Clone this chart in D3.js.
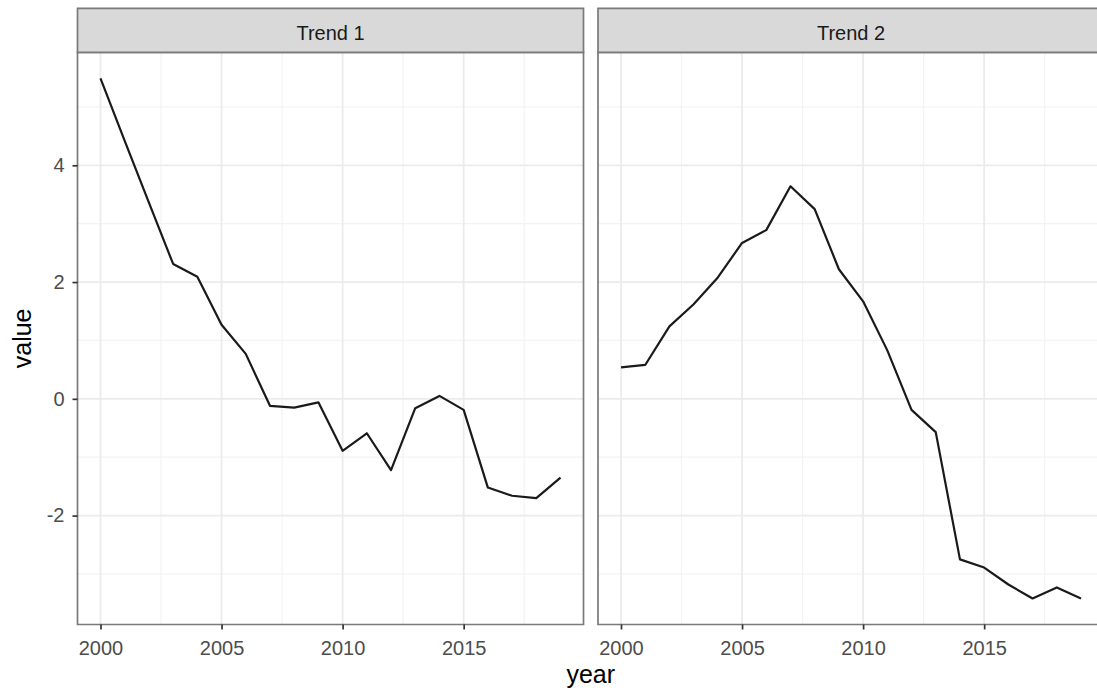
<!DOCTYPE html>
<html>
<head>
<meta charset="utf-8">
<script src="https://cdn.jsdelivr.net/npm/d3@7"></script>
<style>
  html, body { margin: 0; padding: 0; background: #fff; overflow: hidden; }
  svg { display: block; font-family: "Liberation Sans", Arial, sans-serif; }
</style>
</head>
<body>
<svg id="chart" width="1097" height="697"></svg>
<script>
// ---- data ----
const years = [2000,2001,2002,2003,2004,2005,2006,2007,2008,2009,2010,2011,2012,2013,2014,2015,2016,2017,2018,2019];
const panels = ["Trend 1", "Trend 2"];
const trend1 = [5.49,4.42,3.36,2.31,2.09,1.27,0.77,-0.12,-0.15,-0.06,-0.89,-0.59,-1.22,-0.16,0.05,-0.19,-1.52,-1.66,-1.70,-1.35];
const trend2 = [0.54,0.58,1.24,1.62,2.08,2.67,2.89,3.64,3.25,2.22,1.67,0.83,-0.19,-0.57,-2.75,-2.89,-3.18,-3.42,-3.23,-3.42];
const xTicks = [2000, 2005, 2010, 2015];
const xMinor = [2002.5, 2007.5, 2012.5, 2017.5];
const yTicks = [-2, 0, 2, 4];
const yMinor = [-3, -1, 1, 3, 5];
const xTitle = "year";
const yTitle = "value";

const series = [trend1, trend2];

// ---- layout ----
const W = 1097, H = 697;
const svg = d3.select("#chart");
const panelW = 506;
const panelLefts = [77.5, 598];
const stripTop = 8.3, panelTop = 52.3, panelBottom = 624.5;

function expand(ext, f) { const r = ext[1] - ext[0]; return [ext[0] - f * r, ext[1] + f * r]; }

const allVals = trend1.concat(trend2);
const y = d3.scaleLinear().domain(expand(d3.extent(allVals), 0.05)).range([panelBottom, panelTop]);

const borderCol = "#7a7a7a";
const fmt = d => String(d);

function boxPath(x0, y0, x1, y1) {
  // open on the right when the box runs past the picture edge
  if (x1 > W) return `M${x1},${y0}H${x0}V${y1}H${x1}`;
  return `M${x0},${y0}H${x1}V${y1}H${x0}Z`;
}

panels.forEach((name, i) => {
  const left = panelLefts[i];
  const right = left + panelW;
  const x = d3.scaleLinear().domain(expand(d3.extent(years), 0.05)).range([left, right]);
  const g = svg.append("g");

  // minor grid
  g.selectAll(".ymin").data(yMinor).enter().append("line")
    .attr("x1", left).attr("x2", right)
    .attr("y1", d => y(d)).attr("y2", d => y(d))
    .attr("stroke", "#f3f3f3").attr("stroke-width", 1.2);
  g.selectAll(".xmin").data(xMinor).enter().append("line")
    .attr("y1", panelTop).attr("y2", panelBottom)
    .attr("x1", d => x(d)).attr("x2", d => x(d))
    .attr("stroke", "#f3f3f3").attr("stroke-width", 1.2);
  // major grid
  g.selectAll(".ymaj").data(yTicks).enter().append("line")
    .attr("x1", left).attr("x2", right)
    .attr("y1", d => y(d)).attr("y2", d => y(d))
    .attr("stroke", "#ebebeb").attr("stroke-width", 1.8);
  g.selectAll(".xmaj").data(xTicks).enter().append("line")
    .attr("y1", panelTop).attr("y2", panelBottom)
    .attr("x1", d => x(d)).attr("x2", d => x(d))
    .attr("stroke", "#ebebeb").attr("stroke-width", 1.8);

  // data line
  const line = d3.line().x((d, j) => x(years[j])).y(d => y(d));
  g.append("path").datum(series[i]).attr("d", line)
    .attr("fill", "none").attr("stroke", "#1a1a1a").attr("stroke-width", 2.2)
    .attr("stroke-linejoin", "round");

  // panel border
  g.append("path").attr("d", boxPath(left, panelTop, right, panelBottom))
    .attr("fill", "none").attr("stroke", borderCol).attr("stroke-width", 1.7);

  // strip
  g.append("rect").attr("x", left).attr("y", stripTop).attr("width", panelW)
    .attr("height", panelTop - stripTop).attr("fill", "#d9d9d9");
  g.append("path").attr("d", boxPath(left, stripTop, right, panelTop))
    .attr("fill", "none").attr("stroke", borderCol).attr("stroke-width", 1.7);
  g.append("text").attr("x", left + panelW / 2).attr("y", 39.5)
    .attr("text-anchor", "middle").attr("font-size", 20).attr("fill", "#1a1a1a")
    .text(name);

  // x axis
  const xAxis = d3.axisBottom(x).tickValues(xTicks).tickFormat(fmt)
    .tickSize(5).tickPadding(4);
  const ax = g.append("g").attr("transform", `translate(0,${panelBottom})`).call(xAxis);
  ax.select(".domain").remove();
  ax.selectAll(".tick line").attr("stroke", "#333").attr("stroke-width", 1.7);
  ax.selectAll(".tick text").attr("font-size", 20).attr("fill", "#4d4d4d")
    .attr("font-family", "Liberation Sans, Arial, sans-serif").attr("dy", "0.71em").attr("y", 16);

  // y axis on first panel only
  if (i === 0) {
    const yAxis = d3.axisLeft(y).tickValues(yTicks).tickFormat(fmt)
      .tickSize(5).tickPadding(8);
    const ay = g.append("g").attr("transform", `translate(${left},0)`).call(yAxis);
    ay.select(".domain").remove();
    ay.selectAll(".tick line").attr("stroke", "#333").attr("stroke-width", 1.7);
    ay.selectAll(".tick text").attr("font-size", 20).attr("fill", "#4d4d4d")
      .attr("font-family", "Liberation Sans, Arial, sans-serif").attr("x", -13);
  }
});

// axis titles
svg.append("text").attr("x", (panelLefts[0] + panelLefts[1] + panelW) / 2).attr("y", 683)
  .attr("text-anchor", "middle").attr("font-size", 25).attr("fill", "#000").text(xTitle);
svg.append("text").attr("transform", `translate(31,${(panelTop + panelBottom) / 2}) rotate(-90)`)
  .attr("text-anchor", "middle").attr("font-size", 25).attr("fill", "#000").text(yTitle);
</script>
</body>
</html>
